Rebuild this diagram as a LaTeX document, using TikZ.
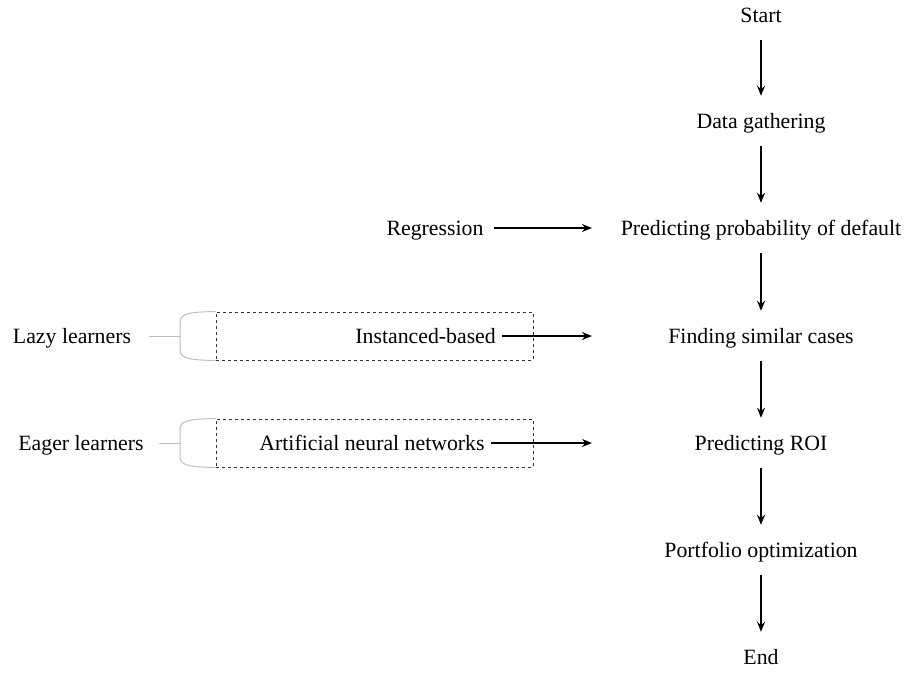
\documentclass[tikz,border=0pt]{standalone}
\usepackage{fontspec}
\setmainfont{Liberation Serif}
\usetikzlibrary{arrows.meta}
\begin{document}
\begin{tikzpicture}[x=1pt,y=-1pt,
  lbl/.style={inner sep=0pt,text height=15pt,text depth=5pt,font=\fontsize{21.8}{26}\selectfont},
  flow/.style={line width=1.9pt,-{Stealth[length=10pt,width=8pt]},shorten <=13pt,shorten >=17pt},
  side/.style={line width=1.9pt,-{Stealth[length=10pt,width=8pt]}},
  dbox/.style={draw=black!80,dashed,line width=1pt,minimum width=317pt,minimum height=48pt,inner sep=0pt},
  brk/.style={draw=black!25,line width=1pt}]
\useasboundingbox (0,0) rectangle (904,683);
% main column
\node[lbl] (start) at (761,17) {Start};
\node[lbl] (data) at (761,123) {Data gathering};
\node[lbl] (ppd) at (761,230) {Predicting probability of default};
\node[lbl] (fsc) at (761,338) {Finding similar cases};
\node[lbl] (roi) at (761,445) {Predicting ROI};
\node[lbl] (po) at (761,552) {Portfolio optimization};
\node[lbl] (end) at (761,659) {End};
\draw[flow] (start) -- (data);
\draw[flow] (data) -- (ppd);
\draw[flow] (ppd) -- (fsc);
\draw[flow] (fsc) -- (roi);
\draw[flow] (roi) -- (po);
\draw[flow] (po) -- (end);
% regression
\node[lbl] (reg) at (435,230) {Regression};
\coordinate (regend) at (592,228);
\draw[side] ([xshift=10pt]reg.east |- regend) -- (regend);
% lazy learners
\node[dbox] (box1) at (374.5,336) {};
\node[lbl,anchor=east] (inst) at (496,338) {Instanced-based};
\coordinate (instend) at (592,336);
\draw[side] ([xshift=6pt]inst.east |- instend) -- (instend);
\node[lbl] (lazy) at (72,338) {Lazy learners};
\coordinate (b1) at (180,336);
\draw[brk] ([xshift=18pt]lazy.east |- b1) -- (b1);
\draw[brk] (box1.north west) .. controls (192,312) and (180,313) .. (180,322) -- (180,350) .. controls (180,359) and (192,360) .. (box1.south west);
% eager learners
\node[dbox] (box2) at (374.5,443) {};
\node[lbl] (ann) at (372,445) {Artificial neural networks};
\coordinate (annend) at (592,443);
\draw[side] ([xshift=6pt]ann.east |- annend) -- (annend);
\node[lbl] (eager) at (81,445) {Eager learners};
\coordinate (b2) at (180,443);
\draw[brk] ([xshift=15pt]eager.east |- b2) -- (b2);
\draw[brk] (box2.north west) .. controls (192,419) and (180,420) .. (180,429) -- (180,457) .. controls (180,466) and (192,467) .. (box2.south west);
\end{tikzpicture}
\end{document}
